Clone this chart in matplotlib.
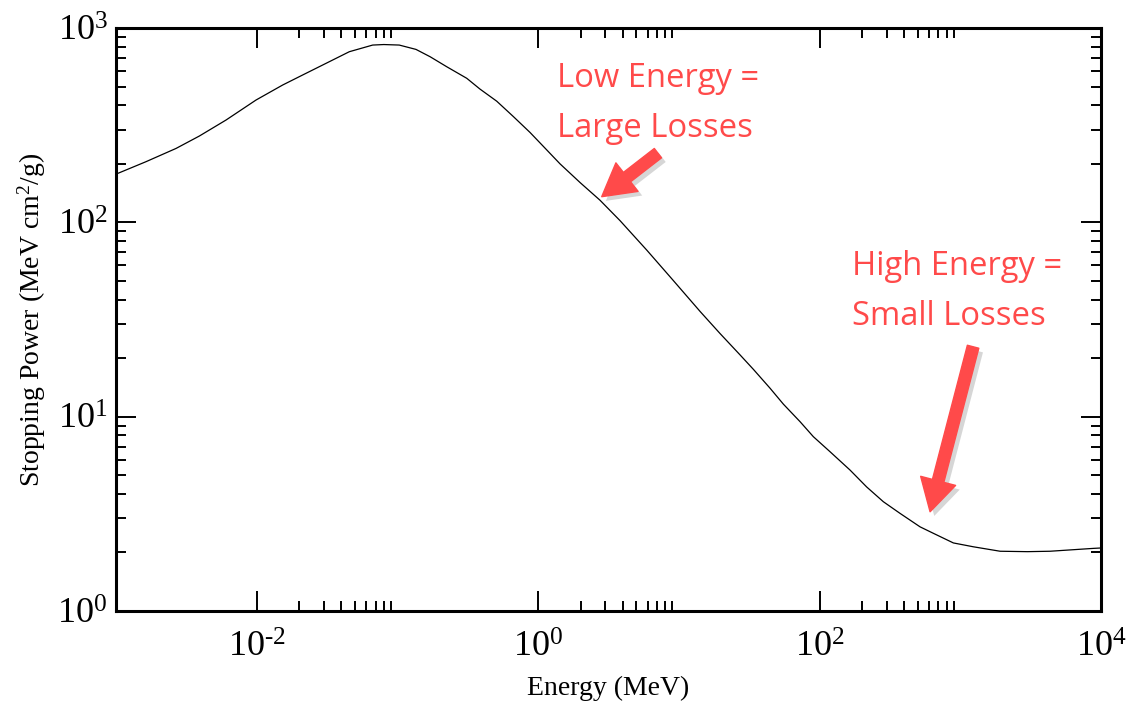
import numpy as np
import matplotlib
matplotlib.use("Agg")
import matplotlib.pyplot as plt
from matplotlib.ticker import FixedLocator, FuncFormatter, NullFormatter
import matplotlib.patheffects as pe

# ---- data ----
energy_mev = [0.00103, 0.00163, 0.00267, 0.00391, 0.00605, 0.00989, 0.0153, 0.0212,
              0.0311, 0.0455, 0.0667, 0.080, 0.103, 0.1355, 0.171, 0.224, 0.311, 0.386,
              0.508, 0.667, 0.876, 1.15, 1.43, 1.99, 2.75, 3.82, 5.91, 9.0, 14.2, 19.6,
              27.2, 33.9, 44.5, 55.3, 72.7, 90.3, 118.7, 164.7, 216, 284, 373, 518,
              644, 893, 1239, 1919, 3000, 4345, 8830, 10000]
stopping_power = [178.6, 205, 240, 278, 336, 426, 509, 573,
                  658, 755, 817, 822, 817, 776, 711, 632, 551, 485,
                  420, 350, 290, 236, 200, 160, 130, 102, 72, 50.8, 34.7, 26.8,
                  20.8, 17.5, 14.0, 11.6, 9.42, 7.89, 6.60, 5.31, 4.35, 3.65, 3.18, 2.71,
                  2.51, 2.24, 2.14, 2.03, 2.02, 2.03, 2.10, 2.11]

x_major = [1e-2, 1e0, 1e2, 1e4]
x_minor_decades = [1e-2, 1e0, 1e2]
y_major = [1e0, 1e1, 1e2, 1e3]

ann_low_text = "Low Energy =\nLarge Losses"
ann_low_text_pos = (1.355, 670)
ann_low_arrow_tail = (7.1, 227)
ann_low_arrow_tip = (2.83, 135.5)

ann_high_text = "High Energy =\nSmall Losses"
ann_high_text_pos = (169, 72)
ann_high_arrow_tail = (1233, 22.9)
ann_high_arrow_tip = (610, 3.24)

RED = "#FF4A4A"

plt.rcParams['font.family'] = ['Liberation Serif', 'DejaVu Serif']
plt.rcParams['mathtext.fontset'] = 'custom'
plt.rcParams['mathtext.rm'] = 'Liberation Serif'
plt.rcParams['mathtext.it'] = 'Liberation Serif:italic'
plt.rcParams['mathtext.bf'] = 'Liberation Serif:bold'

fig = plt.figure(figsize=(11.31, 7.02), dpi=100)
ax = fig.add_axes([116/1131, 1-611/702, (1101-116)/1131, (611-28)/702])

ax.plot(energy_mev, stopping_power, color='black', lw=0.9)
ax.set_xscale('log')
ax.set_yscale('log')
ax.set_xlim(1e-3, 1e4)
ax.set_ylim(1e0, 1e3)

ax.xaxis.set_major_locator(FixedLocator(x_major))
ax.xaxis.set_minor_locator(FixedLocator([k*d for d in x_minor_decades for k in range(2, 10)]))
ax.yaxis.set_major_locator(FixedLocator(y_major))
ax.yaxis.set_minor_locator(FixedLocator([k*d for d in y_major[:-1] for k in range(2, 10)]))


def tick_fmt(v, p):
    e = int(round(np.log10(v)))
    if e < 0:
        return r'$\mathrm{10^{\text{-}%d}}$' % (-e)
    return r'$\mathrm{10^{%d}}$' % e


fmt = FuncFormatter(tick_fmt)
ax.xaxis.set_major_formatter(fmt)
ax.yaxis.set_major_formatter(fmt)
ax.xaxis.set_minor_formatter(NullFormatter())
ax.yaxis.set_minor_formatter(NullFormatter())

ax.tick_params(which='both', direction='in', top=True, right=True, width=1.4)
ax.tick_params(which='major', length=14.4, labelsize=26)
ax.tick_params(which='minor', length=7.2)
ax.tick_params(axis='x', which='major', pad=15)
ax.tick_params(axis='y', which='major', pad=6)
for s in ax.spines.values():
    s.set_linewidth(2.2)

ax.set_xlabel('Energy (MeV)', fontsize=20, labelpad=8)
ax.set_ylabel('Stopping Power (MeV cm$^{2}$/g)', fontsize=20, labelpad=6.5)

for txt, pos in [(ann_low_text, ann_low_text_pos), (ann_high_text, ann_high_text_pos)]:
    ax.text(pos[0], pos[1], txt, color=RED, fontsize=23.6, family='Open Sans',
            ha='left', va='top', linespacing=1.68)

for tail, tip in [(ann_low_arrow_tail, ann_low_arrow_tip), (ann_high_arrow_tail, ann_high_arrow_tip)]:
    ax.annotate('', xy=tip, xytext=tail,
                arrowprops=dict(arrowstyle='simple,head_length=23,head_width=26,tail_width=8.5',
                                mutation_scale=1, color=RED, shrinkA=0, shrinkB=0,
                                path_effects=[pe.SimplePatchShadow(offset=(3, -3), shadow_rgbFace='#999999', alpha=0.4),
                                              pe.Normal()]))

fig.savefig('out.png', dpi=100)
